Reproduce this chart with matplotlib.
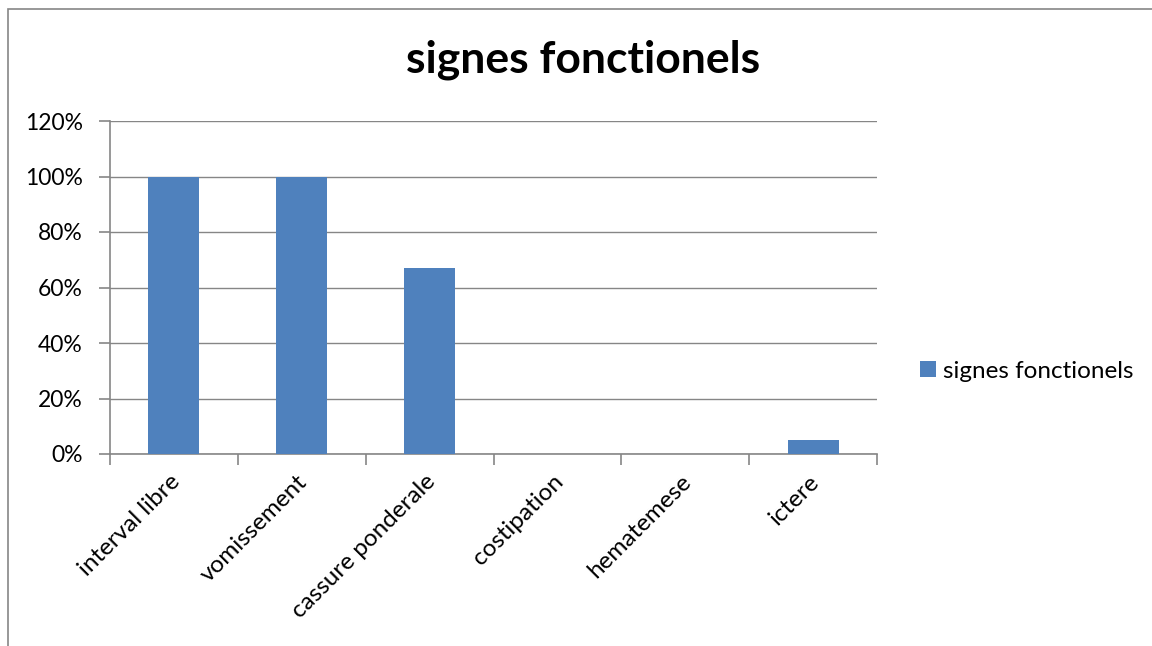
import matplotlib
matplotlib.use("Agg")
import matplotlib.pyplot as plt
from matplotlib.patches import Rectangle
from matplotlib.ticker import FuncFormatter, FixedLocator
import matplotlib.transforms as mtransforms

categories = ["interval libre", "vomissement", "cassure ponderale", "costipation", "hematemese", "ictere"]
values = [1.00, 1.00, 0.67, 0.0, 0.0, 0.05]
series_name = "signes fonctionels"
title = "signes fonctionels"
yticks = [0, 0.2, 0.4, 0.6, 0.8, 1.0, 1.2]

plt.rcParams['font.family'] = ['Lato', 'DejaVu Sans']

W, H = 1152, 646
fig = plt.figure(figsize=(W / 100, H / 100), dpi=100)
fig.patch.set_facecolor('white')

# chart border
fig.add_artist(Rectangle((8 / W, -0.1), 1.5, (H - 9) / H + 0.1, transform=fig.transFigure,
                         fill=False, edgecolor='#868686', lw=1.2))

ax = fig.add_axes([110 / W, 1 - 454 / H, (877 - 110) / W, (454 - 121) / H])
grid_c = '#868686'
x = list(range(len(categories)))
ax.bar(x, values, width=0.4, color='#4F81BD', label=series_name, zorder=3)
ax.set_xlim(-0.5, len(categories) - 0.5)
ax.set_ylim(0, 1.2)
ax.yaxis.set_major_locator(FixedLocator(yticks))
ax.yaxis.set_major_formatter(FuncFormatter(lambda v, p: f"{round(v * 100)}%"))
ax.grid(axis='y', color=grid_c, lw=1, zorder=0)
for s in ['top', 'right']:
    ax.spines[s].set_visible(False)
for s in ['left', 'bottom']:
    ax.spines[s].set_color(grid_c)
    ax.spines[s].set_linewidth(1.2)

# x ticks at category boundaries
ax.set_xticks([i - 0.5 for i in range(len(categories) + 1)])
ax.set_xticklabels([])
ax.tick_params(axis='x', length=8, color=grid_c, width=1.2, direction='out')
ax.tick_params(axis='y', length=8, color=grid_c, width=1.2, direction='out', labelsize=16.5, pad=11.5)
for lbl in ax.get_yticklabels():
    lbl.set_color('black')

offset = mtransforms.ScaledTranslation(-5 / 100, -17 / 100, fig.dpi_scale_trans)
for i, c in enumerate(categories):
    ax.text(i, 0, c, rotation=45, rotation_mode='anchor', ha='right', va='top',
            fontsize=17.5, transform=ax.get_xaxis_transform() + offset)

fig.text(583 / W, 1 - 60 / H, title, ha='center', va='center', fontsize=32, fontweight='bold')

ax.legend(loc='center left', bbox_to_anchor=(898 / W, 1 - 371 / H), bbox_transform=fig.transFigure,
          frameon=False, fontsize=17.5, handlelength=0.65, handleheight=0.65, handletextpad=0.3)

fig.savefig('out.png', dpi=100)
